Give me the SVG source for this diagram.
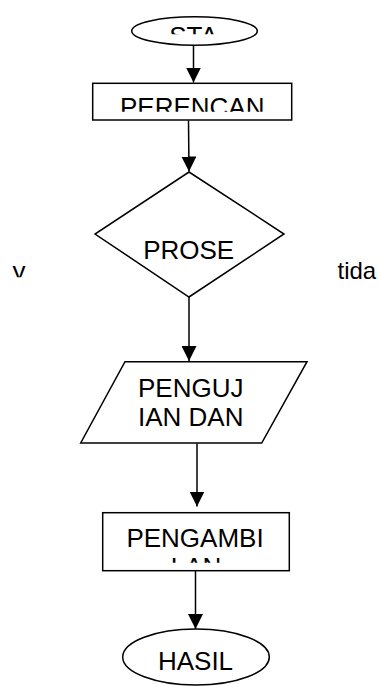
<svg xmlns="http://www.w3.org/2000/svg" width="379" height="686" viewBox="0 0 379 686">
<style>
.s{fill:#fff;stroke:#000;stroke-width:1.5}
.t{font-family:"Liberation Sans",Arial,sans-serif;font-size:26px;fill:#000}
.m{text-anchor:middle}
.c{stroke:#000;stroke-width:1.5;fill:none}
</style>
<defs>
<marker id="ah" markerUnits="userSpaceOnUse" markerWidth="15" markerHeight="15" refX="15" refY="7.5" orient="auto">
<path d="M0,0 L15,7.5 L0,15 z" fill="#000"/>
</marker>
<clipPath id="cSTA"><rect x="0" y="0" width="379" height="34.3"/></clipPath>
<clipPath id="cPER"><rect x="0" y="84" width="379" height="27.7"/></clipPath>
<clipPath id="cY"><rect x="0" y="250" width="60" height="27.3"/></clipPath>
<clipPath id="cPA"><rect x="0" y="514" width="379" height="48.7"/></clipPath>
</defs>
<g id="connectors">
<line class="c" x1="193.5" y1="45.2" x2="193.5" y2="82.5" marker-end="url(#ah)"/>
<line class="c" x1="188.5" y1="120.5" x2="189" y2="171.5" marker-end="url(#ah)"/>
<line class="c" x1="189" y1="297" x2="189" y2="361" marker-end="url(#ah)"/>
<line class="c" x1="197" y1="443.5" x2="197" y2="506.5" marker-end="url(#ah)"/>
<line class="c" x1="195.5" y1="571" x2="195.5" y2="629" marker-end="url(#ah)"/>
</g>
<g id="start">
<ellipse class="s" cx="194.5" cy="31" rx="62.8" ry="14.2"/>
<text class="t m" x="193.5" y="44.6" clip-path="url(#cSTA)">STA</text>
</g>
<g id="perencanaan">
<rect class="s" x="92.7" y="83.3" width="199" height="36.7"/>
<text class="t m" x="192.2" y="116.3" clip-path="url(#cPER)">PERENCAN</text>
</g>
<g id="proses">
<polygon class="s" points="189,172 284,234 189,297 95,234"/>
<text class="t m" x="188.7" y="259.3">PROSE</text>
</g>
<g id="label-ya">
<text class="t" x="12.5" y="279.5" clip-path="url(#cY)">y</text>
</g>
<g id="label-tidak">
<text class="t" x="337.5" y="279.3" style="font-size:24px">tida</text>
</g>
<g id="pengujian">
<polygon class="s" points="125,361.7 307,361.7 261.7,443 80.7,443"/>
<text class="t" x="138" y="396.7">PENGUJ</text>
<text class="t" x="138" y="426">IAN DAN</text>
</g>
<g id="pengambilan">
<rect class="s" x="102.7" y="512.7" width="186.6" height="58"/>
<g clip-path="url(#cPA)">
<text class="t m" x="195" y="546.7">PENGAMBI</text>
<text class="t m" x="196" y="576.2">LAN</text>
</g>
</g>
<g id="hasil">
<ellipse class="s" cx="196" cy="657" rx="73.3" ry="28"/>
<text class="t m" x="195.5" y="670">HASIL</text>
</g>
</svg>
